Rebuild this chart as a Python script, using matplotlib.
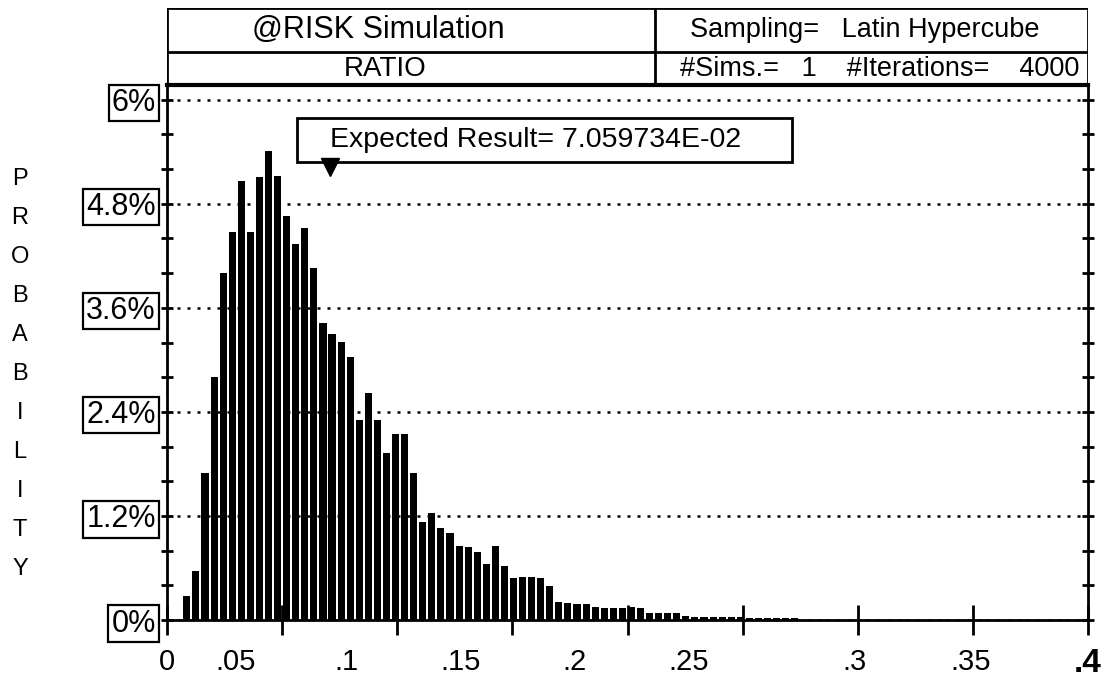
import numpy as np
import matplotlib
matplotlib.use("Agg")
import matplotlib.pyplot as plt
from matplotlib.transforms import ScaledTranslation
from matplotlib.patches import Rectangle

plt.rcParams['font.family'] = ['Liberation Sans', 'DejaVu Sans']

# histogram of RATIO, 4000 iterations (probability in %)
bin_start = 0.0071
bin_width = 0.00394
probability = [
    0.28, 0.57, 1.69, 2.80, 4.00, 4.47, 5.06, 4.47, 5.11, 5.41,
    5.12, 4.66, 4.34, 4.52, 4.06, 3.42, 3.30, 3.21, 3.03, 2.31,
    2.62, 2.31, 1.93, 2.14, 2.14, 1.69, 1.13, 1.23, 1.06, 1.00,
    0.85, 0.84, 0.78, 0.65, 0.85, 0.62, 0.48, 0.50, 0.50, 0.48,
    0.39, 0.21, 0.20, 0.19, 0.18, 0.15, 0.14, 0.14, 0.14, 0.15,
    0.14, 0.08, 0.08, 0.08, 0.08, 0.05, 0.03, 0.03, 0.03, 0.03,
    0.03, 0.03, 0.02, 0.02, 0.02, 0.02, 0.02, 0.02,
]
expected_result = 7.059734E-02

x_ticks = [0, 0.05, 0.1, 0.15, 0.2, 0.25, 0.3, 0.35, 0.4]
x_labels = ["0", ".05", ".1", ".15", ".2", ".25", ".3", ".35", ".4"]
y_ticks = [0, 1.2, 2.4, 3.6, 4.8, 6.0]
y_labels = ["0%", "1.2%", "2.4%", "3.6%", "4.8%", "6%"]

W, H = 1103, 677
fig = plt.figure(figsize=(W / 100, H / 100), dpi=100)
ax = fig.add_axes([167 / W, 1 - 620 / H, 921 / W, 535 / H])

lefts = bin_start + bin_width * np.arange(len(probability))
ax.bar(lefts, probability, width=bin_width * 0.78, align='edge', color='black', zorder=2)

ax.set_xlim(0, 0.4)
ax.set_ylim(0, 6.17)

ax.set_axisbelow(True)
ax.yaxis.grid(True, which='major', linestyle=(0, (1.2, 2.8)), linewidth=1.8, color='black')

for s in ax.spines.values():
    s.set_linewidth(2)
ax.spines['top'].set_linewidth(3)

# y axis
ax.set_yticks(y_ticks, y_labels)
ax.set_yticks(np.arange(0, 6.01, 0.4), minor=True)
ax.tick_params(axis='y', which='both', left=True, right=True, direction='inout',
               length=8, width=2)
ax.tick_params(axis='y', which='major', pad=4, labelsize=22)
for lbl in ax.get_yticklabels():
    lbl.set_bbox(dict(boxstyle='square,pad=0.1', fc='white', ec='black', lw=1.6))

# x axis
ax.set_xticks(x_ticks, x_labels)
ax.tick_params(axis='x', direction='inout', length=22, width=2, pad=9, labelsize=21)
shift_px = [0, -47, -51, -52, -53, -54, -3, -2, 0]
for tick, dx in zip(ax.xaxis.get_major_ticks(), shift_px):
    tick.label1.set_transform(tick.label1.get_transform()
                              + ScaledTranslation(dx / 100, 0, fig.dpi_scale_trans))
ax.get_xticklabels()[-1].set_fontweight('bold')
ax.get_xticklabels()[-1].set_fontsize(24)

# expected result callout
ax.add_patch(Rectangle((0.141, 0.856), 0.538, 0.082, transform=ax.transAxes,
                       fc='white', ec='black', lw=2, zorder=5))
ax.text(0.177, 0.897, "Expected Result= 7.059734E-02", transform=ax.transAxes,
        fontsize=20.5, va='center', ha='left', zorder=6)
ax.plot([expected_result], [5.22], marker='v', markersize=13, color='black',
        clip_on=False, zorder=6)

# y label, stacked letters
fig.text(20 / W, 1 - 374 / H, "\n".join("PROBABILITY"), fontsize=17,
         ha='center', va='center', linespacing=2.0)

# header table
hd = fig.add_axes([167 / W, 1 - 85 / H, 921 / W, 77 / H])
hd.set_xlim(0, 1)
hd.set_ylim(0, 1)
hd.axis('off')
hd.plot([0, 1], [1, 1], color='black', lw=2)
hd.plot([0, 1], [0.4286, 0.4286], color='black', lw=2)
hd.plot([0, 0], [0, 1], color='black', lw=2)
hd.plot([1, 1], [0, 1], color='black', lw=2)
hd.plot([0.53, 0.53], [0, 1], color='black', lw=2)
hd.text(0.229, 0.714, "@RISK Simulation", fontsize=22, ha='center', va='center')
hd.text(0.237, 0.214, "RATIO", fontsize=20, ha='center', va='center')
hd.text(0.758, 0.714, "Sampling=   Latin Hypercube", fontsize=19.5, ha='center', va='center')
hd.text(0.774, 0.214, "#Sims.=   1    #Iterations=    4000", fontsize=19.5, ha='center', va='center')

fig.savefig("out.png", dpi=100)
